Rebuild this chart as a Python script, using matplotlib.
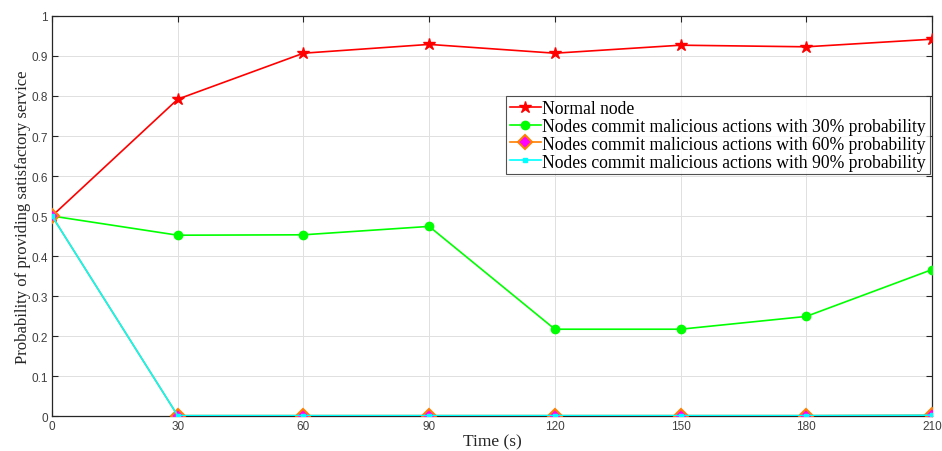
import matplotlib.pyplot as plt
import numpy as np

time_s = [0, 30, 60, 90, 120, 150, 180, 210]
normal = [0.50, 0.792, 0.907, 0.929, 0.907, 0.927, 0.923, 0.942]
p30 = [0.50, 0.452, 0.453, 0.474, 0.217, 0.217, 0.249, 0.366]
p60 = [0.50, 0.001, 0.001, 0.001, 0.001, 0.001, 0.001, 0.002]
p90 = [0.50, 0.001, 0.001, 0.001, 0.001, 0.001, 0.001, 0.002]

labels = [
    "Normal node",
    "Nodes commit malicious actions with 30% probability",
    "Nodes commit malicious actions with 60% probability",
    "Nodes commit malicious actions with 90% probability",
]
yticks = np.round(np.arange(0, 1.01, 0.1), 1)
ytick_labels = ["0"] + [f"{v:g}" for v in yticks[1:-1]] + ["1"]

serif = ["Liberation Serif", "DejaVu Serif"]
tickfont = ["Liberation Sans", "DejaVu Sans"]

fig = plt.figure(figsize=(9.42, 4.52), dpi=100)
ax = fig.add_axes([0.0552, 0.0774, 0.9342, 0.885])

ax.plot(time_s, normal, color="#ff0000", lw=1.2, marker="*", ms=9,
        mfc="#ff0000", mec="#ff0000", label=labels[0], zorder=3)
ax.plot(time_s, p30, color="#00ff00", lw=1.2, marker="o", ms=6,
        mfc="#00ff00", mec="#00ff00", label=labels[1], zorder=3)
ax.plot(time_s, p60, color="#ff8000", lw=1.2, marker="D", ms=7,
        mfc="#ff00ff", mec="#ff8000", mew=1.5, label=labels[2], zorder=4)
ax.plot(time_s, p90, color="#00ffff", lw=1.2, marker="s", ms=2.5,
        mfc="#00ffff", mec="#00ffff", label=labels[3], zorder=5)

ax.set_xlim(0, 210)
ax.set_ylim(0, 1)
ax.set_xticks(time_s)
ax.set_yticks(yticks)
ax.set_yticklabels(ytick_labels)
ax.tick_params(direction="in", length=4, width=0.8, colors="#262626",
               labelsize=8.5, pad=3, top=True, right=True)
for lab in ax.get_xticklabels() + ax.get_yticklabels():
    lab.set_family(tickfont)
    lab.set_color("#404040")
ax.grid(True, color="#e0e0e0", lw=0.7)
ax.set_axisbelow(True)
for s in ax.spines.values():
    s.set_color("#262626")
    s.set_linewidth(0.9)

ax.set_xlabel("Time (s)", family=serif, fontsize=12.5, color="#262626", labelpad=1)
ax.set_ylabel("Probability of providing satisfactory service", family=serif,
              fontsize=12, color="#262626", labelpad=0)

leg = ax.legend(loc="upper right", bbox_to_anchor=(0.9977, 0.8), prop={"family": serif, "size": 12.7},
                frameon=True, fancybox=False, edgecolor="#262626", handlelength=1.75,
                handletextpad=0.1, borderpad=0.22, labelspacing=0.05, borderaxespad=0)
leg.get_frame().set_linewidth(0.8)

fig.savefig("out.png", dpi=100)
